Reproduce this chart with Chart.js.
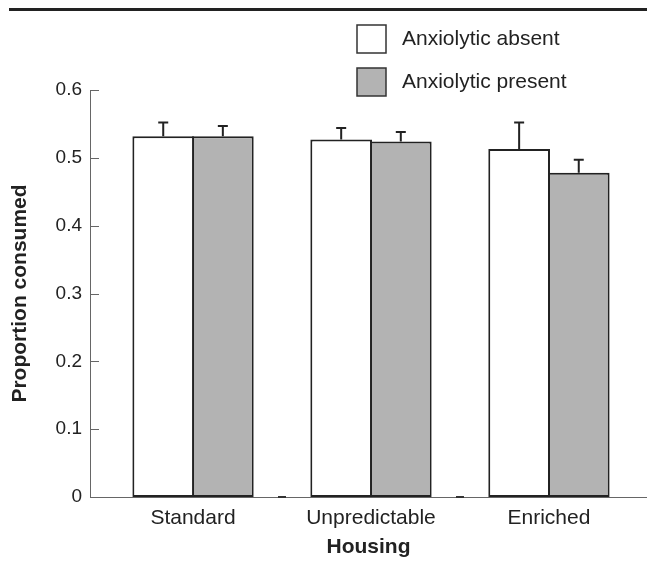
<!DOCTYPE html>
<html>
<head>
<meta charset="utf-8">
<script src="https://cdn.jsdelivr.net/npm/chart.js@4/dist/chart.umd.min.js"></script>
<style>
  body { margin: 0; background: #fff; }
  #wrap { position: relative; width: 647px; height: 562px; }
  #rule { position: absolute; top: 8px; left: 9px; right: 0; height: 3px; background: #222; }
</style>
</head>
<body>
<div id="wrap">
  <div id="rule"></div>
  <canvas id="chart" width="647" height="562"></canvas>
</div>
<script>
const categories = ['Standard', 'Unpredictable', 'Enriched'];
const seriesNames = ['Anxiolytic absent', 'Anxiolytic present'];
const absentValues = [0.532, 0.527, 0.513];
const presentValues = [0.532, 0.524, 0.478];
const absentErr = [0.020, 0.017, 0.039];
const presentErr = [0.015, 0.014, 0.019];
const yTicks = [0, 0.1, 0.2, 0.3, 0.4, 0.5, 0.6];

Chart.defaults.font.family = 'Arial, "Liberation Sans", sans-serif';
Chart.defaults.color = '#222';

const ink = '#222';

// error bars, inward y ticks, small marks between groups
const extras = {
  id: 'extras',
  afterDatasetsDraw(chart) {
    const ctx = chart.ctx;
    const y = chart.scales.y;
    const x = chart.scales.x;
    ctx.save();
    ctx.strokeStyle = ink;
    ctx.lineWidth = 2;
    chart.data.datasets.forEach((ds, di) => {
      const meta = chart.getDatasetMeta(di);
      meta.data.forEach((bar, i) => {
        const top = y.getPixelForValue(ds.data[i].y + ds.err[i]);
        ctx.beginPath();
        ctx.moveTo(bar.x, bar.y);
        ctx.lineTo(bar.x, top);
        ctx.moveTo(bar.x - 5, top);
        ctx.lineTo(bar.x + 5, top);
        ctx.stroke();
      });
    });
    // y ticks point inward
    ctx.strokeStyle = '#666';
    ctx.lineWidth = 1;
    yTicks.forEach(v => {
      const py = Math.round(y.getPixelForValue(v)) + 0.5;
      ctx.beginPath();
      ctx.moveTo(x.left, py);
      ctx.lineTo(x.left + 9, py);
      ctx.stroke();
    });
    // little marks on the baseline between groups
    ctx.strokeStyle = '#333';
    ctx.lineWidth = 2;
    for (let i = 0; i < categories.length - 1; i++) {
      const px = x.getPixelForValue(i + 0.5);
      ctx.beginPath();
      ctx.moveTo(px - 4, y.bottom);
      ctx.lineTo(px + 4, y.bottom);
      ctx.stroke();
    }
    ctx.restore();
  },
  afterDraw(chart) {
    // legend stacked at top right
    const ctx = chart.ctx;
    ctx.save();
    ctx.font = '21px Arial, "Liberation Sans", sans-serif';
    ctx.textBaseline = 'middle';
    chart.data.datasets.forEach((ds, i) => {
      const bx = 357, by = 25 + i * 43;
      ctx.fillStyle = ds.backgroundColor;
      ctx.fillRect(bx, by, 29, 28);
      ctx.strokeStyle = '#333';
      ctx.lineWidth = 1.5;
      ctx.strokeRect(bx, by, 29, 28);
      ctx.fillStyle = ink;
      ctx.fillText(ds.label, 402, by + 14);
    });
    ctx.restore();
  }
};

new Chart(document.getElementById('chart'), {
  type: 'bar',
  data: {
    datasets: [
      {
        label: seriesNames[0],
        data: absentValues.map((v, i) => ({ x: i, y: v })),
        err: absentErr,
        backgroundColor: '#ffffff',
        borderColor: ink,
        borderWidth: 2,
        borderSkipped: false
      },
      {
        label: seriesNames[1],
        data: presentValues.map((v, i) => ({ x: i, y: v })),
        err: presentErr,
        backgroundColor: '#b3b3b3',
        borderColor: ink,
        borderWidth: 2,
        borderSkipped: false
      }
    ]
  },
  options: {
    responsive: false,
    animation: false,
    categoryPercentage: 0.67,
    barPercentage: 1.035,
    layout: { padding: { top: 90, right: 0, left: 0, bottom: 0 } },
    plugins: {
      legend: { display: false },
      tooltip: { enabled: false }
    },
    scales: {
      x: {
        type: 'linear',
        offset: false,
        bounds: 'data',
        min: -0.579,
        max: 2.551,
        afterBuildTicks(s) { s.ticks = categories.map((c, i) => ({ value: i })); },
        afterFit(s) { s.height = 65; s.paddingRight = 0; },
        grid: { display: false, drawTicks: false, offset: false },
        border: { display: true, color: '#666', width: 1 },
        ticks: {
          padding: 9,
          font: { size: 21 },
          color: ink,
          callback: v => categories[v] || ''
        },
        title: {
          display: true,
          text: 'Housing',
          font: { size: 21, weight: 'bold' },
          color: ink,
          padding: { top: 0, bottom: 2 }
        }
      },
      y: {
        min: 0,
        max: 0.6,
        afterFit(s) { s.width = 90; },
        grid: { display: false, drawTicks: false },
        border: { display: true, color: '#666', width: 1 },
        ticks: {
          stepSize: 0.1,
          padding: 8,
          font: { size: 19 },
          color: ink,
          callback: v => v === 0 ? '0' : v.toFixed(1)
        },
        title: {
          display: true,
          text: 'Proportion consumed',
          font: { size: 21, weight: 'bold' },
          color: ink,
          padding: { top: 8, bottom: 0 }
        }
      }
    }
  },
  plugins: [extras]
});
</script>
</body>
</html>
